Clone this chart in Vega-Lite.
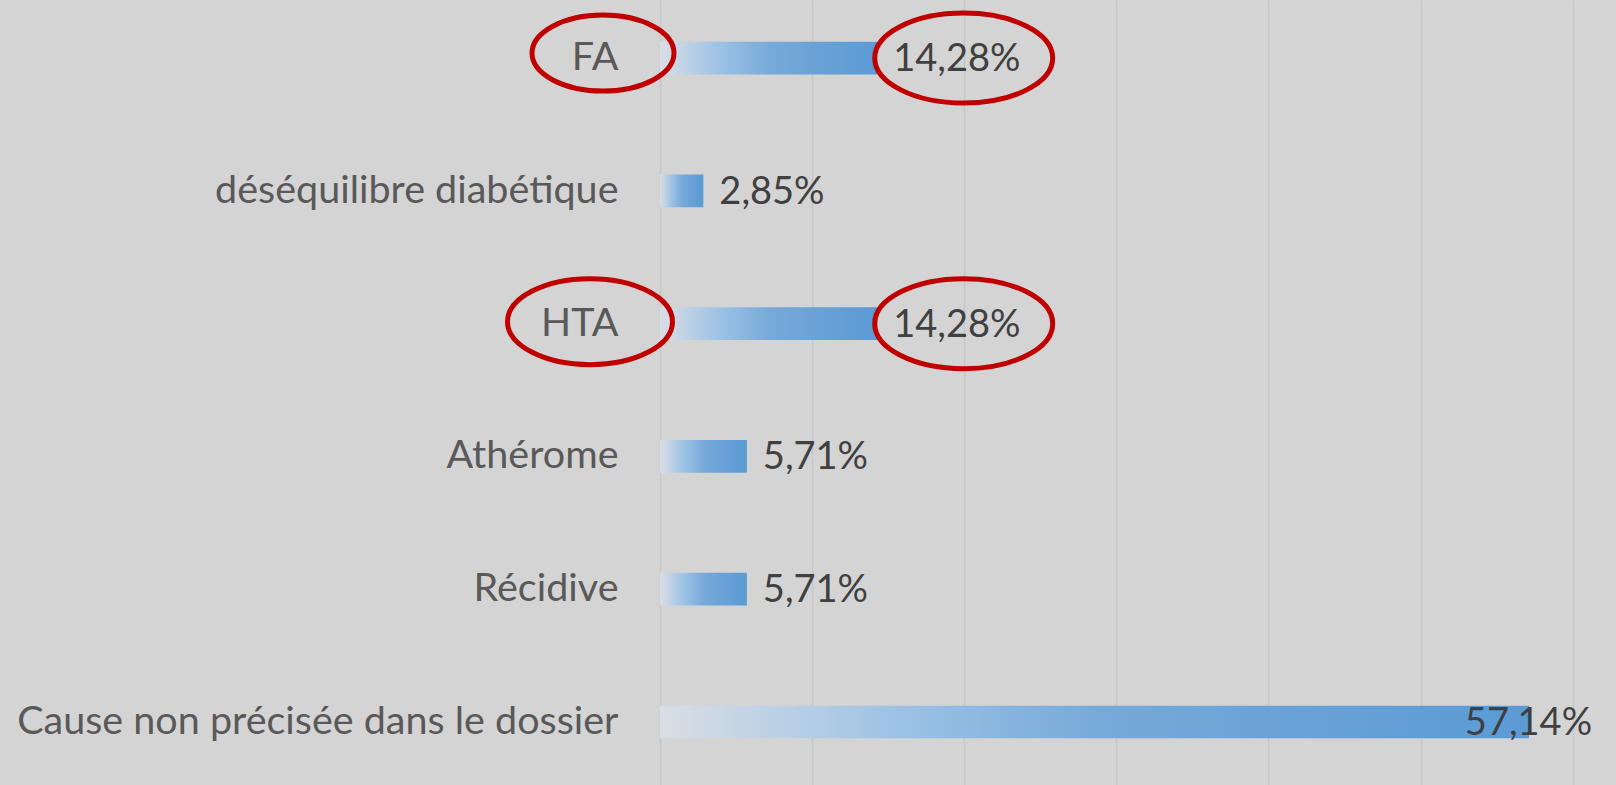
{
  "$schema": "https://vega.github.io/schema/vega-lite/v6.json",
  "autosize": {"type": "none"},
  "padding": {"left": 660, "top": 0, "right": 43.4, "bottom": 0},
  "width": 912.6,
  "height": 785,
  "background": "#D4D4D4",
  "config": {
    "view": {"stroke": null},
    "font": "Lato"
  },
  "data": {
    "values": [
      {"cause": "FA", "value": 14.28, "label": "14,28%"},
      {"cause": "déséquilibre diabétique", "value": 2.85, "label": "2,85%"},
      {"cause": "HTA", "value": 14.28, "label": "14,28%"},
      {"cause": "Athérome", "value": 5.71, "label": "5,71%"},
      {"cause": "Récidive", "value": 5.71, "label": "5,71%"},
      {"cause": "Cause non précisée dans le dossier", "value": 57.14, "label": "57,14%"}
    ]
  },
  "encoding": {
    "y": {
      "field": "cause",
      "type": "nominal",
      "sort": null,
      "scale": {"paddingInner": 0.754, "paddingOuter": 0.333, "align": 0.472},
      "axis": {
        "title": null,
        "domain": false,
        "ticks": false,
        "labelFont": "Lato",
        "labelFontSize": 39.5,
        "labelColor": "#595959",
        "labelPadding": 42,
        "labelLimit": 700
      }
    }
  },
  "layer": [
    {
      "mark": {
        "type": "bar",
        "fill": {
          "gradient": "linear",
          "x1": 0, "x2": 1, "y1": 0, "y2": 0,
          "stops": [
            {"offset": 0, "color": "#DADEE4"},
            {"offset": 0.27, "color": "#9DC3E6"},
            {"offset": 0.5, "color": "#78AAD9"},
            {"offset": 0.75, "color": "#68A1D6"},
            {"offset": 1, "color": "#5B9BD5"}
          ]
        }
      },
      "encoding": {
        "x": {
          "field": "value",
          "type": "quantitative",
          "scale": {"domain": [0, 60], "nice": false, "zero": true},
          "axis": {
            "title": null,
            "labels": false,
            "ticks": false,
            "domain": false,
            "values": [0, 10, 20, 30, 40, 50, 60],
            "grid": true,
            "gridColor": "#C6C6C6",
            "gridWidth": 1.5
          }
        }
      }
    },
    {
      "transform": [{"filter": "datum.value < 50"}],
      "mark": {"type": "text", "align": "left", "baseline": "middle", "dx": 16, "dy": 2, "font": "Lato", "fontSize": 38, "color": "#404040"},
      "encoding": {
        "x": {"field": "value", "type": "quantitative"},
        "text": {"field": "label"}
      }
    },
    {
      "transform": [{"filter": "datum.value >= 50"}],
      "mark": {"type": "text", "align": "right", "baseline": "middle", "dx": 63, "dy": 2, "font": "Lato", "fontSize": 38, "color": "#404040"},
      "encoding": {
        "x": {"field": "value", "type": "quantitative"},
        "text": {"field": "label"}
      }
    },
    {
      "transform": [{"filter": "datum.cause == 'FA' || datum.cause == 'HTA'"}],
      "mark": {
        "type": "point",
        "filled": false,
        "stroke": "#C00000",
        "strokeWidth": 5,
        "opacity": 1,
        "size": 4,
        "shape": "M 175.5 0 C 175.5 24.85 135.65 45 86.5 45 C 37.35 45 -2.5 24.85 -2.5 0 C -2.5 -24.85 37.35 -45 86.5 -45 C 135.65 -45 175.5 -24.85 175.5 0 Z"
      },
      "encoding": {
        "x": {"field": "value", "type": "quantitative"}
      }
    },
    {
      "transform": [{"filter": "datum.cause == 'FA' || datum.cause == 'HTA'"}],
      "mark": {
        "type": "point",
        "filled": false,
        "stroke": "#C00000",
        "strokeWidth": 5,
        "opacity": 1,
        "size": 4
      },
      "encoding": {
        "x": {"datum": 0, "type": "quantitative"},
        "shape": {
          "field": "cause",
          "type": "nominal",
          "legend": null,
          "scale": {
            "domain": ["FA", "HTA"],
            "range": [
              "M 14 -5 C 14 15.99 -17.79 33 -57 33 C -96.21 33 -128 15.99 -128 -5 C -128 -25.99 -96.21 -43 -57 -43 C -17.79 -43 14 -25.99 14 -5 Z",
              "M 12.5 -2 C 12.5 21.75 -24.44 41 -70 41 C -115.56 41 -152.5 21.75 -152.5 -2 C -152.5 -25.75 -115.56 -45 -70 -45 C -24.44 -45 12.5 -25.75 12.5 -2 Z"
            ]
          }
        }
      }
    }
  ]
}
